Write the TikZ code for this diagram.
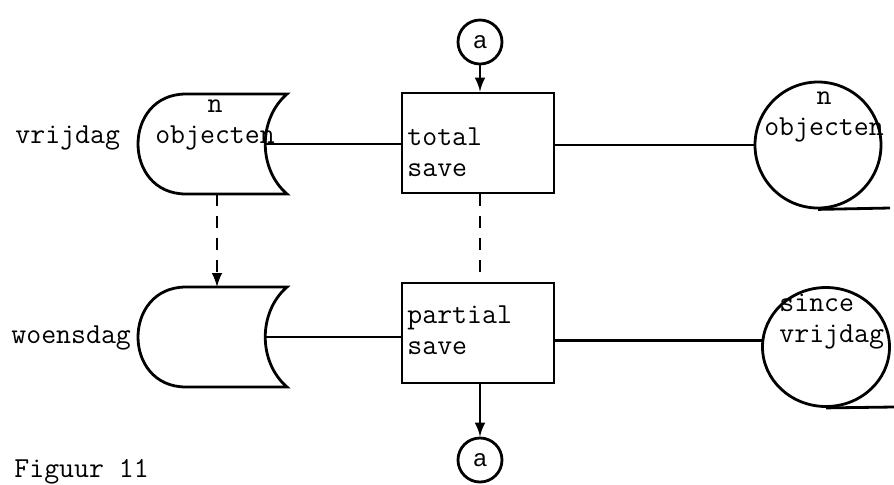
\documentclass[tikz,border=0pt]{standalone}
\usepackage{fontspec}
\setsansfont{Liberation Sans}
\usetikzlibrary{arrows,shapes.geometric}

\begin{document}
\begin{tikzpicture}[x=0.5pt,y=-0.5pt,line width=1.4pt,>=latex]
    \tikzstyle{typed}=[font=\ttfamily\fontsize{14.5}{15.5}\selectfont, inner sep=0pt]
    \tikzstyle{process}=[draw, rectangle, minimum width=76pt, minimum height=50pt, inner sep=0pt]
    \tikzstyle{tape}=[draw, circle, minimum size=63pt, inner sep=0pt]
    \tikzstyle{connector}=[draw, circle, minimum size=22pt, inner sep=0pt, font=\sffamily\fontsize{12}{14}\selectfont]
    \tikzstyle{link}=[dash pattern=on 6pt off 5pt]

    \clip (0,0) rectangle (894,484);

    % Draw the stored data shapes
    \foreach \name / \y in {vr/144, wo/337}
    {
        \draw (186,\y-50) -- (287,\y-50)
            .. controls (258,\y-25) and (258,\y+25) .. (287,\y+50)
            -- (186,\y+50)
            .. controls (122,\y+50) and (122,\y-50) .. (186,\y-50) -- cycle;
        \coordinate (S-\name) at (265,\y);
        \coordinate (S-\name-top) at (217,\y-50);
        \coordinate (S-\name-bot) at (217,\y+50);
    }
    \node[typed, align=center] (S-vr-text) at (215,125) {n\\objecten};

    % Day labels
    \node[typed, anchor=base west] (vrijdag) at (14,143) {vrijdag};
    \node[typed, anchor=base west] (woensdag) at (10,343) {woensdag};

    % Draw the save steps
    \node[process] (P-1) at (478,143) {};
    \node[process] (P-2) at (478,333) {};
    \node[typed, align=left, anchor=west] (P-1-text) at (406,152) {total\\save};
    \node[typed, align=left, anchor=west] (P-2-text) at (406,330) {partial\\save};

    % Draw the tapes
    \node[tape] (T-1) at (818,145) {};
    \node[tape, ellipse, minimum width=63.5pt, minimum height=59.5pt] (T-2) at (826,347) {};
    \node[typed, align=center] (T-1-text) at (824,117) {n\\objecten};
    \node[typed, align=left, anchor=west] (T-2-text) at (778,322) {since\\vrijdag};
    \coordinate (T-1-end) at (890,208);
    \coordinate (T-2-end) at (894,407);
    \draw (T-1.south) -- (T-1-end);
    \draw (T-2.south) -- (T-2-end);

    % Draw the off-page connectors
    \node[connector] (C-1) at (480,42) {a};
    \node[connector] (C-2) at (480,460) {a};

    % Connect the stores, the steps and the tapes
    \draw (S-vr) -- (S-vr -| P-1.west);
    \draw (P-1.east |- T-1.west) -- (T-1.west);
    \draw (S-wo) -- (S-wo -| P-2.west);
    \draw (P-2.east |- T-2.174) -- (T-2.174);

    \draw[->] (C-1.south) -- (C-1 |- P-1.north);
    \draw[->] (C-2 |- P-2.south) -- (C-2.north);
    \draw[link] (P-1.south -| C-1) -- (P-2.north -| C-1);
    \draw[link,->] (S-vr-bot) -- (S-wo-top);

    \node[typed, anchor=base west] (caption) at (13,477) {Figuur 11};
\end{tikzpicture}
\end{document}
